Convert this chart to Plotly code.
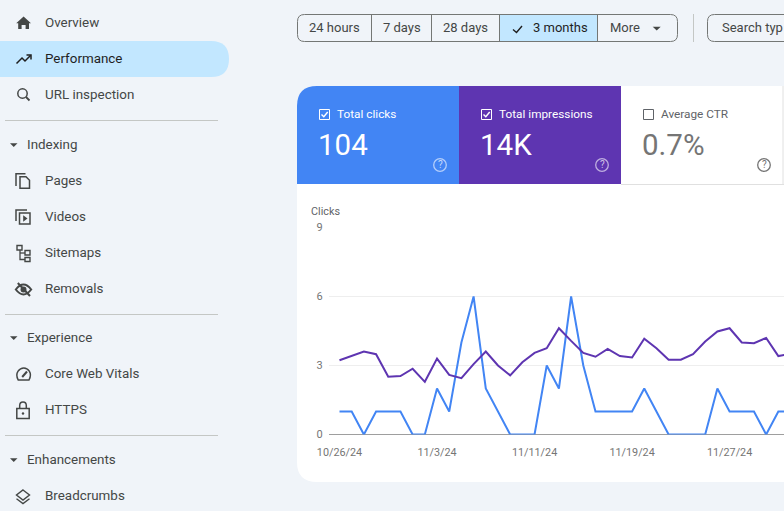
import plotly.graph_objects as go
import pandas as pd

W, H = 784, 511
FONT = "Roboto"

# ---- chart data ----
dates = pd.date_range("2024-10-26", periods=38).strftime("%Y-%m-%d").tolist()
clicks = [1, 1, 0, 1, 1, 1, 0, 0, 2, 1, 4, 6, 2, 1, 0, 0, 0, 3, 2, 6, 3, 1, 1, 1, 1, 2, 1, 0, 0, 0, 0, 2, 1, 1, 1, 0, 1, 1]
impressions = [3.23, 3.41, 3.61, 3.49, 2.51, 2.54, 2.86, 2.29, 3.30, 2.59, 2.45, 3.06, 3.61, 3.00, 2.57, 3.14, 3.55, 3.75, 4.62,
               4.07, 3.55, 3.38, 3.72, 3.41, 3.35, 4.16, 3.75, 3.25, 3.25, 3.49, 4.04, 4.48, 4.62, 4.00, 3.97, 4.20, 3.41, 3.50]
x_tick_dates = ["2024-10-26", "2024-11-03", "2024-11-11", "2024-11-19", "2024-11-27"]
x_tick_labels = ["10/26/24", "11/3/24", "11/11/24", "11/19/24", "11/27/24"]
y_ticks = [0, 3, 6, 9]

# ---- interface text ----
nav_items = [("Overview", 22), ("Performance", 58), ("URL inspection", 94), ("Pages", 180), ("Videos", 216), ("Sitemaps", 252),
             ("Removals", 288), ("Core Web Vitals", 373), ("HTTPS", 409), ("Breadcrumbs", 495)]
nav_groups = [("Indexing", 144), ("Experience", 337), ("Enhancements", 459)]
range_buttons = [("24 hours", 309), ("7 days", 383), ("28 days", 443), ("3 months", 533), ("More", 609.5)]
metrics = [("Total clicks", "104", 319, "#ffffff", "#ffffff", True), ("Total impressions", "14K", 481, "#ffffff", "#ffffff", True),
           ("Average CTR", "0.7%", 643, "#757575", "#5f6368", False)]

BG = "#f0f4f9"
INK = "#444746"
shapes = []


def path(d, fill=None, line=None, width=1.5):
    shapes.append(dict(type="path", path=d, xref="x", yref="y", layer="below",
                       fillcolor=fill or "rgba(0,0,0,0)",
                       line=dict(color=line or "rgba(0,0,0,0)", width=width if line else 0)))


def poly(pts, close=False, **kw):
    d = "M" + " L".join(f"{a},{b}" for a, b in pts) + (" Z" if close else "")
    path(d, **kw)


def rect(x0, y0, x1, y1, fill=None, line=None, width=1):
    shapes.append(dict(type="rect", x0=x0, y0=y0, x1=x1, y1=y1, xref="x", yref="y", layer="below",
                       fillcolor=fill or "rgba(0,0,0,0)",
                       line=dict(color=line or "rgba(0,0,0,0)", width=width if line else 0)))


def circle(cx, cy, r, fill=None, line=None, width=1.5):
    shapes.append(dict(type="circle", x0=cx - r, y0=cy - r, x1=cx + r, y1=cy + r, xref="x", yref="y", layer="below",
                       fillcolor=fill or "rgba(0,0,0,0)",
                       line=dict(color=line or "rgba(0,0,0,0)", width=width if line else 0)))


annotations = []


def text(s, x, y, size=13, color=INK, anchor="left", family=FONT):
    annotations.append(dict(text=s, x=x, y=y, xref="x", yref="y", xanchor=anchor, yanchor="middle", showarrow=False,
                            font=dict(family=family, size=size, color=color), borderpad=0, borderwidth=0))


# card
path("M317,86 L790,86 L790,482 L317,482 Q297,482 297,462 L297,106 Q297,86 317,86 Z", fill="#ffffff")
path("M317,86 L459,86 L459,184 L297,184 L297,106 Q297,86 317,86 Z", fill="#4285f4")
rect(459, 86, 621, 184, fill="#5e35b1")
poly([(621, 184.5), (790, 184.5)], line="#e0e0e0", width=1)
poly([(783, 86), (783, 184)], line="#e0e0e0", width=1)

# sidebar highlight and separators
path("M-5,41 L211,41 Q229,41 229,59 Q229,77 211,77 L-5,77 Z", fill="#c2e7ff")
for yy in (120.5, 314.5, 435.5):
    poly([(5, yy), (218, yy)], line="#c4c7c5", width=1)
for _, yy in nav_groups:
    poly([(10, yy - 0.7), (17.5, yy - 0.7), (13.75, yy + 3)], close=True, fill=INK)

# toolbar
path("M499.5,14.5 L597.5,14.5 L597.5,41.5 L499.5,41.5 Z", fill="#c2e7ff")
path("M304.5,14.5 L670.5,14.5 Q677.5,14.5 677.5,21.5 L677.5,34.5 Q677.5,41.5 670.5,41.5 L304.5,41.5 Q297.5,41.5 297.5,34.5 L297.5,21.5 Q297.5,14.5 304.5,14.5 Z",
     line="#747775", width=1)
for xx in (371.5, 431.5, 499.5, 597.5):
    poly([(xx, 14.5), (xx, 41.5)], line="#747775", width=1)
poly([(693.5, 14), (693.5, 42)], line="#c4c7c5", width=1)
path("M714.5,14.5 L795,14.5 L795,41.5 L714.5,41.5 Q707.5,41.5 707.5,34.5 L707.5,21.5 Q707.5,14.5 714.5,14.5 Z", line="#747775", width=1)
poly([(513, 29.5), (516.5, 32.5), (522, 26)], line="#1f1f1f", width=1.4)
poly([(652.7, 26.7), (660.7, 26.7), (656.7, 30.4)], close=True, fill=INK)

# sidebar icons
poly([(23.6, 16.6), (31, 23.2), (29, 23.2), (29, 29), (25.6, 29), (25.6, 25), (21.6, 25), (21.6, 29), (18.2, 29), (18.2, 23.2), (16.2, 23.2)],
     close=True, fill=INK)
poly([(16.5, 63.5), (22, 58), (25, 61), (30.5, 55.5)], line="#1f1f1f", width=1.5)
poly([(26.5, 55), (31, 55), (31, 59.5)], line="#1f1f1f", width=1.5)
circle(22.5, 93.5, 4.7, line=INK)
poly([(26, 97), (29.5, 100.5)], line=INK, width=1.8)
poly([(20, 176.7), (26, 176.7), (29.5, 180.3), (29.5, 188.3), (20, 188.3)], close=True, line=INK)
poly([(16, 186), (16, 173.7), (25.5, 173.7)], line=INK)
rect(19.5, 213, 30, 224, line=INK, width=1.5)
poly([(16, 221), (16, 210), (27, 210)], line=INK)
poly([(23.2, 215.3), (27.5, 218.5), (23.2, 221.7)], close=True, fill=INK)
rect(17, 245.5, 22, 250, line=INK, width=1.4)
rect(25, 250.5, 30, 255, line=INK, width=1.4)
rect(25, 257.5, 30, 261.5, line=INK, width=1.4)
poly([(20, 250), (20, 259.5), (25, 259.5)], line=INK, width=1.3)
poly([(20, 253), (25, 253)], line=INK, width=1.3)
path("M15.8,289.5 Q23.5,279.5 31.2,289.5 Q23.5,299.5 15.8,289.5 Z", line=INK, width=2)
circle(23.5, 289.5, 3, fill=INK)
poly([(17.8, 283), (30, 296)], line=INK, width=2)
path("M18.2,380 C14.2,372.5 20,368 23.8,368 C27.5,368 33,372.5 29,380 Z", line=INK, width=1.5)
poly([(22.2, 377), (27, 371.5)], line=INK, width=2)
rect(16.8, 408.5, 29.2, 418.5, line=INK, width=1.5)
path("M19.7,408.5 L19.7,405.5 C19.7,400.8 26.3,400.8 26.3,405.5 L26.3,408.5", line=INK, width=1.5)
circle(23, 413.5, 1.2, fill=INK)
poly([(23, 490), (29.5, 495), (23, 500), (16.5, 495)], close=True, line=INK, width=1.4)
poly([(16.5, 498.8), (23, 503.6), (29.5, 498.8)], line=INK, width=1.4)

# text
for s, yy in nav_items:
    text(s, 45, yy, 13.4, "#1f1f1f" if s == "Performance" else INK)
for s, yy in nav_groups:
    text(s, 27, yy, 13.4, INK)
for s, xx in range_buttons:
    text(s, xx, 27, 13, "#1f1f1f" if s == "3 months" else INK)
text("Search typ", 722, 27, 13, INK)

for label, value, xx, vcolor, lcolor, checked in metrics:
    rect(xx + .5, 109.5, xx + 10.5, 119.5, line=lcolor, width=1)
    if checked:
        poly([(xx + 2.5, 114.5), (xx + 4.8, 116.8), (xx + 8.7, 112)], line=lcolor, width=1.4)
    text(label, xx + 17.7, 113.5, 11.8, lcolor)
    text(value, xx - 0.7, 145, 29.5, vcolor)
    circle(xx + 121, 165, 6.3, line="rgba(255,255,255,0.6)" if checked else "#757575", width=1.3)
    text("?", xx + 121, 164.5, 10, "rgba(255,255,255,0.7)" if checked else "#757575", anchor="center")

text("Clicks", 311, 211.5, 10.8, "#5f6368")

fig = go.Figure()
fig.add_trace(go.Scatter(x=[], y=[], xaxis="x", yaxis="y", showlegend=False, hoverinfo="skip"))
fig.add_trace(go.Scatter(x=dates, y=clicks, mode="lines", name="Clicks", xaxis="x2", yaxis="y2", showlegend=False,
                         line=dict(color="#4285f4", width=2)))
fig.add_trace(go.Scatter(x=dates, y=impressions, mode="lines", name="Impressions", xaxis="x2", yaxis="y2", showlegend=False,
                         line=dict(color="#5e35b1", width=2)))

day = 12.19
x0_px, x1_px = 329, W
start = pd.Timestamp("2024-10-26") - pd.Timedelta(days=(339.5 - x0_px) / day)
end = pd.Timestamp("2024-10-26") + pd.Timedelta(days=(x1_px - 339.5) / day)

fig.update_layout(
    width=W, height=H, margin=dict(l=0, r=0, t=0, b=0, autoexpand=False), autosize=False,
    paper_bgcolor=BG, plot_bgcolor="rgba(0,0,0,0)", showlegend=False,
    font=dict(family=FONT, color="#757575", size=11),
    shapes=shapes, annotations=annotations,
    xaxis=dict(domain=[0, 1], range=[0, W], visible=False, fixedrange=True),
    yaxis=dict(domain=[0, 1], range=[H, 0], visible=False, fixedrange=True),
    xaxis2=dict(domain=[x0_px / W, 1], range=[start, end], type="date", anchor="y2", tickmode="array", tickvals=x_tick_dates,
                ticktext=x_tick_labels, showgrid=False, zeroline=False, showline=False, ticks="outside", ticklen=8,
                tickcolor="rgba(0,0,0,0)", tickfont=dict(family=FONT, size=10.8, color="#757575")),
    yaxis2=dict(domain=[1 - 434.5 / H, 1 - 227.5 / H], range=[0, 9], anchor="x2", tickmode="array", tickvals=y_ticks,
                gridcolor="#eeeeee", gridwidth=1, zeroline=True, zerolinecolor="#9e9e9e", zerolinewidth=1, showline=False,
                ticks="outside", ticklen=3, tickcolor="rgba(0,0,0,0)",
                tickfont=dict(family=FONT, size=11, color="#757575")),
)

fig.write_html("out.html", config=dict(displayModeBar=False),
               post_script="document.body.style.margin='0';document.body.style.overflow='hidden';")
